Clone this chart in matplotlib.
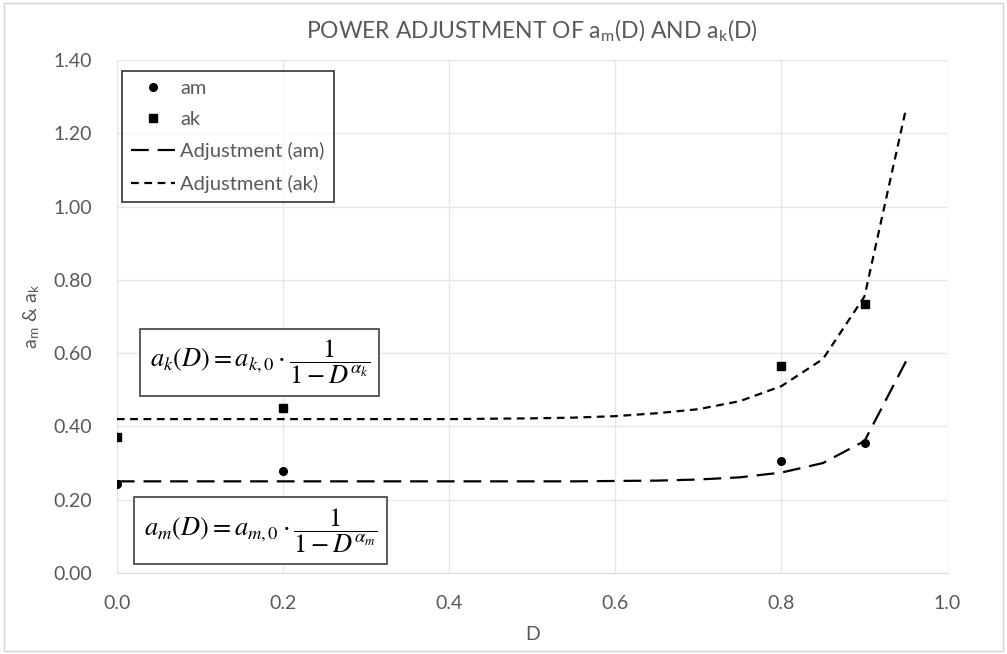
import matplotlib.pyplot as plt
from matplotlib.patches import Rectangle

# measured points
d_pts = [0.0, 0.2, 0.8, 0.9]
am = [0.243, 0.277, 0.306, 0.355]
ak = [0.371, 0.450, 0.565, 0.733]

# adjustment curves
d_fit = [0.0, 0.05, 0.1, 0.15, 0.2, 0.25, 0.3, 0.35, 0.4, 0.45, 0.5,
         0.55, 0.6, 0.65, 0.7, 0.75, 0.8, 0.85, 0.9, 0.95]
am_fit = [0.250, 0.250, 0.250, 0.250, 0.250, 0.250, 0.250, 0.250, 0.250, 0.250, 0.250,
          0.250, 0.251, 0.252, 0.255, 0.261, 0.274, 0.300, 0.360, 0.578]
ak_fit = [0.420, 0.420, 0.420, 0.420, 0.420, 0.420, 0.420, 0.420, 0.420, 0.421, 0.422,
          0.424, 0.428, 0.436, 0.447, 0.469, 0.510, 0.584, 0.755, 1.268]

x_ticks = [0.0, 0.2, 0.4, 0.6, 0.8, 1.0]
y_ticks = [0.0, 0.2, 0.4, 0.6, 0.8, 1.0, 1.2, 1.4]

grey = '#595959'
plt.rcParams['font.family'] = ['Lato', 'DejaVu Sans']
plt.rcParams['mathtext.fontset'] = 'stix'

fig = plt.figure(figsize=(10.07, 6.54), dpi=100)
ax = fig.add_axes([0.116, 0.124, 0.825, 0.784])

# outer chart border
fig.patches.append(Rectangle((0.004, 0.004), 0.992, 0.992, transform=fig.transFigure,
                             fill=False, edgecolor='#d0d0d0', linewidth=1))

ax.plot(d_pts, am, 'o', color='black', markersize=5.5, label='am', zorder=3)
ax.plot(d_pts, ak, 's', color='black', markersize=5.5, label='ak', zorder=3)
ax.plot(d_fit, am_fit, color='black', linewidth=1.6, dashes=(8, 4), label='Adjustment (am)')
ax.plot(d_fit, ak_fit, color='black', linewidth=1.6, dashes=(3.5, 2.5), label='Adjustment (ak)')

ax.set_xlim(0, 1.0)
ax.set_ylim(0, 1.4)
ax.set_xticks(x_ticks)
ax.set_yticks(y_ticks)
ax.set_xticklabels([f'{v:.1f}' for v in x_ticks])
ax.set_yticklabels([f'{v:.2f}' for v in y_ticks])
ax.tick_params(colors=grey, labelsize=14, length=0)
ax.tick_params(axis='x', pad=16)
ax.tick_params(axis='y', pad=18)
ax.grid(True, color='#e6e6e6', linewidth=1)
ax.set_axisbelow(True)
for s in ax.spines.values():
    s.set_visible(False)
ax.spines['bottom'].set_visible(True)
ax.spines['bottom'].set_color('#d9d9d9')

ax.set_xlabel('D', color=grey, fontsize=14, labelpad=10)
ax.set_ylabel(r'a$_\mathregular{m}$ & a$_\mathregular{k}$', color=grey, fontsize=14, labelpad=8)
ax.set_title(r'POWER ADJUSTMENT OF a$_\mathregular{m}$(D) AND a$_\mathregular{k}$(D)',
             color=grey, fontsize=16.5, pad=16)

leg = ax.legend(loc='upper left', bbox_to_anchor=(0.006, 0.979), fontsize=14.5,
                frameon=True, fancybox=False, edgecolor='black', handlelength=2.2,
                handletextpad=0.25, borderpad=0.45, labelspacing=0.7, borderaxespad=0)
leg.get_frame().set_linewidth(1.2)
for t in leg.get_texts():
    t.set_color(grey)

box = dict(boxstyle='square,pad=0.35', facecolor='white', edgecolor='#404040', linewidth=1.2)
ax.text(0.172, 0.575, r'$a_k(D) = a_{k,0}\cdot\dfrac{1}{1-D^{\alpha_k}}$', fontsize=19,
        ha='center', va='center', bbox=box, zorder=5)
ax.text(0.173, 0.115, r'$a_m(D) = a_{m,0}\cdot\dfrac{1}{1-D^{\alpha_m}}$', fontsize=19,
        ha='center', va='center', bbox=box, zorder=5)

fig.savefig('out.png', dpi=100)
